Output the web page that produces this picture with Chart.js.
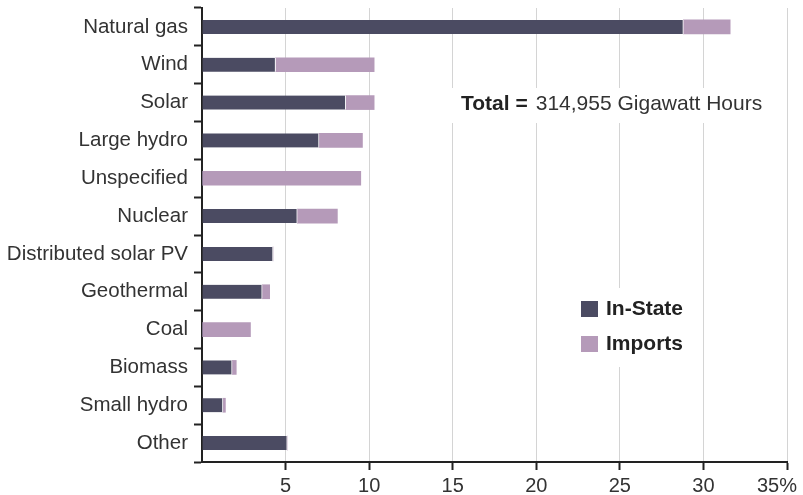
<!DOCTYPE html>
<html>
<head>
<meta charset="utf-8">
<script src="https://cdn.jsdelivr.net/npm/chart.js@4/dist/chart.umd.min.js"></script>
<style>
  html, body { margin: 0; padding: 0; background: #fff; }
  #wrap { width: 803px; height: 495px; }
</style>
</head>
<body>
<div id="wrap"><canvas id="mixChart" width="803" height="495"></canvas></div>
<script>
// Categories, top to bottom
const categories = ["Natural gas", "Wind", "Solar", "Large hydro", "Unspecified", "Nuclear",
    "Distributed solar PV", "Geothermal", "Coal", "Biomass", "Small hydro", "Other"];
// Share of total (%)
const inState = [28.8, 4.4, 8.6, 7.0, 0, 5.7, 4.25, 3.6, 0, 1.8, 1.25, 5.1];
const imports = [2.8, 5.9, 1.7, 2.6, 9.5, 2.4, 0, 0.45, 2.9, 0.25, 0.15, 0];
const xTicks = [0, 5, 10, 15, 20, 25, 30, 35];

const darkColor = "#4b4b62";
const pinkColor = "#b59ab9";
const fontFamily = "'Liberation Sans', Arial, sans-serif";

// total label + legend drawn on top of the grid, with white boxes behind them
const overlayPlugin = {
    id: "overlay",
    afterDraw(chart) {
        const ctx = chart.ctx;
        ctx.save();
        ctx.fillStyle = "#fff";
        ctx.fillRect(445, 88, 325, 35);
        ctx.fillRect(575, 288, 115, 79);

        ctx.textBaseline = "middle";
        ctx.textAlign = "left";
        ctx.fillStyle = "#222";
        ctx.font = "bold 21px " + fontFamily;
        const boldPart = "Total =";
        ctx.fillText(boldPart, 461, 104);
        const w = ctx.measureText(boldPart).width;
        ctx.font = "21px " + fontFamily;
        ctx.fillStyle = "#333";
        ctx.fillText("314,955 Gigawatt Hours", 461 + w + 8, 104);

        chart.data.datasets.forEach((ds, i) => {
            const y = 309 + i * 35;
            ctx.fillStyle = ds.backgroundColor;
            ctx.fillRect(581, y - 8, 17, 16);
            ctx.fillStyle = "#222";
            ctx.font = "bold 21px " + fontFamily;
            ctx.fillText(ds.label, 606, y);
        });
        ctx.restore();
    }
};

const ctx = document.getElementById("mixChart").getContext("2d");
new Chart(ctx, {
    type: "bar",
    data: {
        labels: categories,
        datasets: [
            {
                label: "In-State",
                data: inState,
                backgroundColor: darkColor,
                borderColor: "#fff",
                borderWidth: { right: 1 },
                borderSkipped: false,
                barThickness: 14
            },
            {
                label: "Imports",
                data: imports,
                backgroundColor: pinkColor,
                borderWidth: 0,
                barThickness: 14
            }
        ]
    },
    options: {
        indexAxis: "y",
        responsive: false,
        animation: false,
        layout: { padding: { top: 8, right: 16, left: 0, bottom: 0 } },
        plugins: {
            legend: { display: false },
            tooltip: { enabled: false }
        },
        scales: {
            x: {
                stacked: true,
                min: 0,
                max: 35,
                afterBuildTicks(scale) {
                    scale.ticks = xTicks.map(v => ({ value: v }));
                },
                afterFit(scale) {
                    scale.height = 33;
                    scale.paddingLeft = 0;
                    scale.paddingRight = 0;
                },
                border: { color: "#222", width: 2 },
                grid: {
                    color: c => (c.tick && c.tick.value === 0) ? "rgba(0,0,0,0)" : "#d4d4d4",
                    lineWidth: 1,
                    tickColor: c => (c.tick && c.tick.value === 0) ? "rgba(0,0,0,0)" : "#222",
                    tickLength: 8,
                    tickWidth: 2
                },
                ticks: {
                    padding: 4,
                    color: "#333",
                    font: { family: fontFamily, size: 20 },
                    maxRotation: 0,
                    // last label is pulled left so it stays inside the canvas
                    callback: v => v === 0 ? "" : (v === 35 ? v + "%\u2002\u2002" : v)
                }
            },
            y: {
                stacked: true,
                offset: true,
                afterFit(scale) {
                    scale.width = 202;
                    scale.paddingTop = 0;
                    scale.paddingBottom = 0;
                },
                border: { color: "#222", width: 2 },
                grid: {
                    offset: true,
                    drawOnChartArea: false,
                    color: "#222",
                    tickColor: "#222",
                    tickLength: 8,
                    tickWidth: 2
                },
                ticks: {
                    padding: 6,
                    color: "#333",
                    font: { family: fontFamily, size: 20.5 },
                    autoSkip: false
                }
            }
        }
    },
    plugins: [overlayPlugin]
});
</script>
</body>
</html>
